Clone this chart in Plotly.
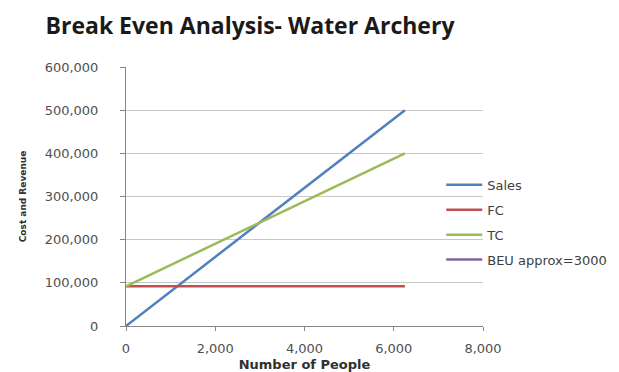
import plotly.graph_objects as go

people = [0, 6250]
sales = [0, 500000]
fc = [92000, 92000]
tc = [92000, 400000]
beu_x = [3000]
beu_y = [240000]

x_ticks = [0, 2000, 4000, 6000, 8000]
y_ticks = [0, 100000, 200000, 300000, 400000, 500000, 600000]

fig = go.Figure()
fig.add_trace(go.Scatter(x=people, y=sales, mode="lines", name="Sales",
                         line=dict(color="#4F81BD", width=2.5), legendgroup="a"))
fig.add_trace(go.Scatter(x=people, y=fc, mode="lines", name="FC",
                         line=dict(color="#C0504D", width=2.5), legendgroup="b"))
fig.add_trace(go.Scatter(x=people, y=tc, mode="lines", name="TC",
                         line=dict(color="#9BBB59", width=2.5), legendgroup="c"))
fig.add_trace(go.Scatter(x=beu_x, y=beu_y, mode="lines", name="BEU approx=3000",
                         line=dict(color="#8064A2", width=2.5), legendgroup="d"))

tick_font = dict(family="DejaVu Sans", size=13, color="#505050")

fig.update_layout(
    width=619, height=372,
    margin=dict(l=126, r=136, t=67, b=46, autoexpand=False),
    paper_bgcolor="white", plot_bgcolor="white",
    font=dict(family="DejaVu Sans", color="#404040", size=12),
    title=dict(text="<b>Break Even Analysis- Water Archery</b>",
               x=250/619, xanchor="center", y=1-26/372, yanchor="middle",
               font=dict(family="Open Sans", size=23, color="#1a1a1a")),
    showlegend=True,
    legend=dict(x=0.883, xanchor="left", y=0.40, yanchor="middle",
                font=dict(family="DejaVu Sans", size=13, color="#404040"),
                tracegroupgap=5, bgcolor="rgba(0,0,0,0)", itemwidth=36),
    xaxis=dict(range=[0, 8000], tickvals=x_ticks, tickformat=",",
               showgrid=False, zeroline=False, showline=True,
               linecolor="#868686", linewidth=1, ticks="outside",
               ticklen=4, tickcolor="#868686", tickfont=tick_font,
               ticklabelstandoff=6, automargin=False,
               title=dict(text="<b>Number of People</b>",
                          font=dict(family="DejaVu Sans", size=13, color="#303030"),
                          standoff=8)),
    yaxis=dict(range=[0, 600000], tickvals=y_ticks, tickformat=",",
               showgrid=True, gridcolor="#C8C8C8", gridwidth=1,
               zeroline=False, showline=True, linecolor="#868686",
               linewidth=1, ticks="outside", ticklen=5, tickcolor="#868686",
               tickfont=tick_font, ticklabelstandoff=19, automargin=False,
               title=dict(text="<b>Cost and Revenue</b>",
                          font=dict(family="DejaVu Sans", size=9, color="#303030"),
                          standoff=16)),
)

fig.write_html("out.html", config={"displayModeBar": False},
               post_script="document.body.style.margin='0';")
